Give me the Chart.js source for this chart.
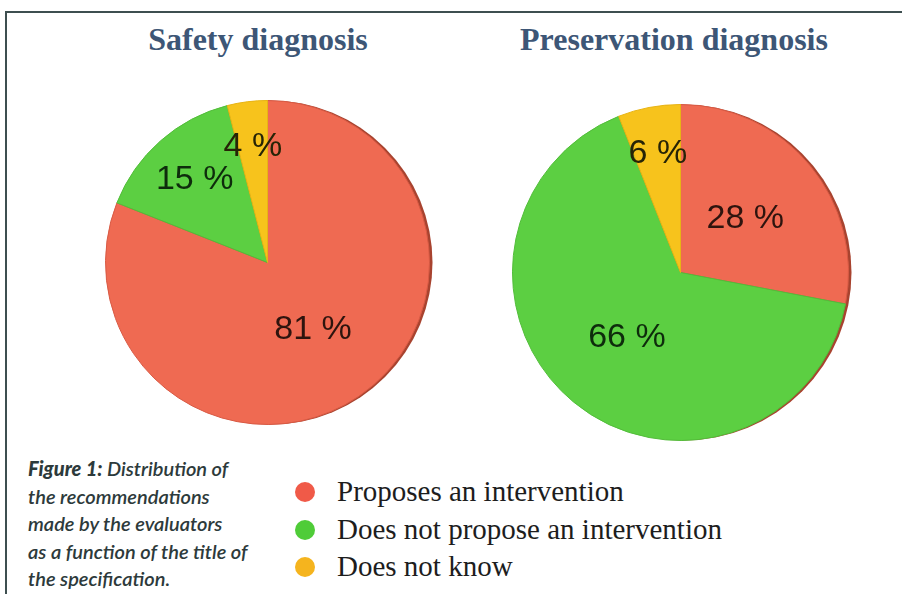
<!DOCTYPE html>
<html>
<head>
<meta charset="utf-8">
<script src="https://cdn.jsdelivr.net/npm/chart.js@4/dist/chart.umd.min.js"></script>
<style>
  html, body { margin: 0; padding: 0; background: #fff; }
  #page { position: relative; width: 902px; height: 594px; overflow: hidden; background: #fff; }
  .frame-top { position: absolute; left: 5px; top: 11px; width: 897px; height: 2px; background: #3e4f50; }
  .frame-left { position: absolute; left: 5px; top: 11px; width: 2px; height: 583px; background: #3e4f50; }
  .title {
    position: absolute; top: 21px; width: 400px; text-align: center;
    font-family: "Liberation Serif", "Times New Roman", serif; font-weight: bold;
    font-size: 32px; color: #3d5676;
  }
  .chart-box { position: absolute; }
  #legend {
    position: absolute; left: 295px; top: 473px;
    font-family: "Liberation Serif", "Times New Roman", serif; font-size: 29px; color: #1d1d1d;
  }
  #legend .item { height: 37.5px; line-height: 37.5px; white-space: nowrap; }
  #legend .dot { display: inline-block; width: 20px; height: 20px; border-radius: 50%; margin-right: 22px; vertical-align: -1px; }
  #caption {
    position: absolute; left: 28px; top: 455px; width: 260px;
    font-family: Lato, "Open Sans", sans-serif; font-style: italic; font-weight: 600; font-size: 20px;
    line-height: 27.5px; color: #2d3a3b;
  }
  #caption b { font-weight: 900; }
</style>
</head>
<body>
<div id="page">
  <div class="frame-top"></div>
  <div class="frame-left"></div>
  <div class="title" style="left: 58px;">Safety diagnosis</div>
  <div class="title" style="left: 474px;">Preservation diagnosis</div>
  <div class="chart-box" style="left: 105px; top: 100px; width: 328px; height: 325px;"><canvas id="safety-chart"></canvas></div>
  <div class="chart-box" style="left: 512px; top: 104px; width: 340px; height: 337px;"><canvas id="preservation-chart"></canvas></div>
  <div id="legend"></div>
  <div id="caption"><b>Figure 1:</b> Distribution of<br>the recommendations<br>made by the evaluators<br>as a function of the title of<br>the specification.</div>
</div>
<script>
// Answer categories (same order in both pies, clockwise from the top)
const categories = ['Proposes an intervention', 'Does not propose an intervention', 'Does not know'];

// Share of evaluators, in percent
const safetyValues = [81, 15, 4];
const preservationValues = [28, 66, 6];

const sliceColors = ['#ef6a52', '#5ccf42', '#f7c31c'];
const sliceBorders = ['#d85a44', '#52bd3a', '#e8b414'];
const labelColors = ['#2e140e', '#0e2c0c', '#262406'];
const legendColors = ['#f05a48', '#4fcc38', '#f5b41e'];

// Dark rim on the right side, like the tilted pies of the original
const pieRim = {
  id: 'pieRim',
  beforeDatasetsDraw(chart) {
    const arc = chart.getDatasetMeta(0).data[0];
    if (!arc) return;
    const ctx = chart.ctx;
    ctx.save();
    ctx.fillStyle = '#a8432f';
    ctx.beginPath();
    ctx.arc(arc.x + 3, arc.y, arc.outerRadius, 0, Math.PI * 2);
    ctx.fill();
    ctx.restore();
  }
};

// Draws the "81 %" style labels inside the slices
const sliceLabels = {
  id: 'sliceLabels',
  afterDatasetsDraw(chart) {
    const ctx = chart.ctx;
    const meta = chart.getDatasetMeta(0);
    const values = chart.data.datasets[0].data;
    ctx.save();
    ctx.font = '34px "Liberation Sans", Arial, sans-serif';
    ctx.textAlign = 'center';
    ctx.textBaseline = 'middle';
    meta.data.forEach((arc, i) => {
      const v = values[i];
      const mid = (arc.startAngle + arc.endAngle) / 2;
      // small slices get their label nearer the rim
      const f = v >= 25 ? 0.5 : (v >= 10 ? 0.68 : 0.72);
      const x = arc.x + Math.cos(mid) * arc.outerRadius * f;
      const y = arc.y + Math.sin(mid) * arc.outerRadius * f;
      ctx.fillStyle = labelColors[i];
      ctx.fillText(v + ' %', x, y);
    });
    ctx.restore();
  }
};

function makePie(id, values) {
  const el = document.getElementById(id);
  return new Chart(el, {
    type: 'pie',
    data: {
      labels: categories,
      datasets: [{
        data: values,
        backgroundColor: sliceColors,
        borderColor: sliceBorders,
        borderWidth: 1,
        hoverOffset: 0
      }]
    },
    options: {
      responsive: true,
      maintainAspectRatio: false,
      animation: false,
      events: [],
      layout: { padding: { right: 3 } },
      plugins: {
        legend: { display: false },
        tooltip: { enabled: false }
      }
    },
    plugins: [pieRim, sliceLabels]
  });
}

makePie('safety-chart', safetyValues);
makePie('preservation-chart', preservationValues);

// Shared legend under both pies
const legend = document.getElementById('legend');
categories.forEach((name, i) => {
  const row = document.createElement('div');
  row.className = 'item';
  const dot = document.createElement('span');
  dot.className = 'dot';
  dot.style.background = legendColors[i];
  row.appendChild(dot);
  row.appendChild(document.createTextNode(name));
  legend.appendChild(row);
});
</script>
</body>
</html>
